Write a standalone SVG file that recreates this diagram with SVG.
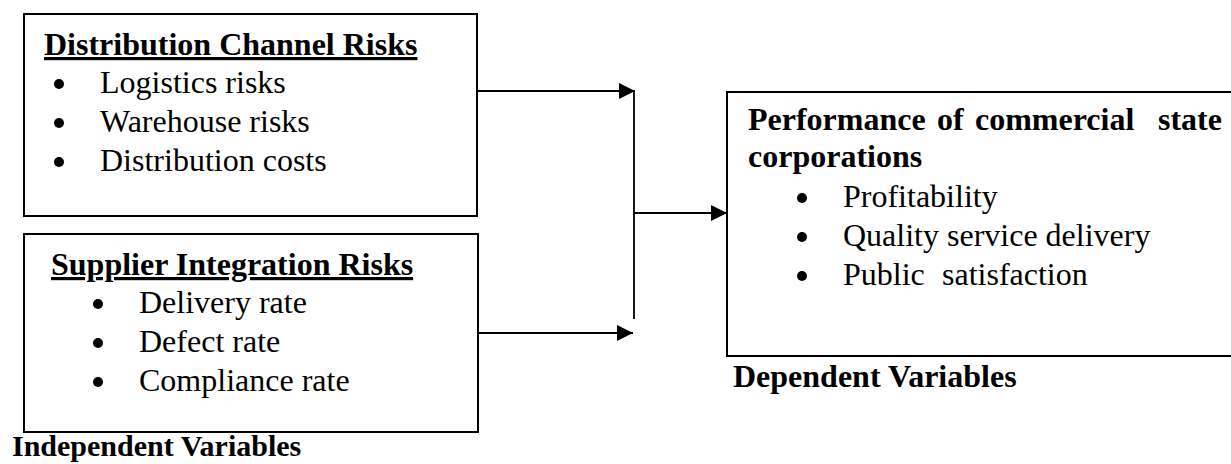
<svg xmlns="http://www.w3.org/2000/svg" width="1231" height="464" viewBox="0 0 1231 464">
<defs>
<style>
text { font-family: "Liberation Serif", "Times New Roman", serif; font-size: 32px; fill: #000; }
.b { font-weight: bold; }
.u { text-decoration: underline; }
.box { fill: #fff; stroke: #000; stroke-width: 2; }
.ln { fill: none; stroke: #000; stroke-width: 1.8; }
.dot { fill: #000; }
</style>
<marker id="ah" viewBox="0 0 16 16" refX="16" refY="8" markerWidth="16" markerHeight="16" markerUnits="userSpaceOnUse" orient="auto">
<path d="M0,0 L16,8 L0,16 Z" fill="#000"/>
</marker>
</defs>
<rect width="1231" height="464" fill="#fff"/>
<g id="connectors">
<line class="ln" x1="478" y1="91" x2="635" y2="91" marker-end="url(#ah)"/>
<line class="ln" x1="479" y1="333" x2="633" y2="333" marker-end="url(#ah)"/>
<line class="ln" x1="634" y1="90" x2="634" y2="319"/>
<line class="ln" x1="634" y1="213" x2="727" y2="213" marker-end="url(#ah)"/>
</g>
<g id="distribution">
<rect class="box" x="24" y="14" width="453" height="202"/>
<text class="b u" x="44" y="55">Distribution Channel Risks</text>
<circle class="dot" cx="59" cy="84" r="5"/><text x="100" y="93">Logistics risks</text>
<circle class="dot" cx="59" cy="123" r="5"/><text x="100" y="132">Warehouse risks</text>
<circle class="dot" cx="59" cy="162" r="5"/><text x="100" y="171">Distribution costs</text>
</g>
<g id="supplier">
<rect class="box" x="24" y="234" width="454" height="198"/>
<text class="b u" x="51" y="275">Supplier Integration Risks</text>
<circle class="dot" cx="98" cy="304" r="5"/><text x="139" y="313">Delivery rate</text>
<circle class="dot" cx="98" cy="343" r="5"/><text x="139" y="352">Defect rate</text>
<circle class="dot" cx="98" cy="382" r="5"/><text x="139" y="391">Compliance rate</text>
</g>
<g id="independent-label">
<text class="b" x="12" y="456" style="font-size:30px">Independent Variables</text>
</g>
<g id="performance">
<rect class="box" x="727" y="92" width="520" height="264"/>
<text class="b" y="130"><tspan x="748">Performance</tspan><tspan x="937">of</tspan><tspan x="975">commercial</tspan><tspan x="1158">state</tspan></text>
<text class="b" x="748" y="167">corporations</text>
<circle class="dot" cx="802" cy="198" r="5"/><text x="843" y="207">Profitability</text>
<circle class="dot" cx="802" cy="237" r="5"/><text x="843" y="246">Quality service delivery</text>
<circle class="dot" cx="802" cy="276" r="5"/><text x="843" y="285"><tspan>Public</tspan><tspan x="942">satisfaction</tspan></text>
</g>
<g id="dependent-label">
<text class="b" x="733" y="387">Dependent Variables</text>
</g>
</svg>
